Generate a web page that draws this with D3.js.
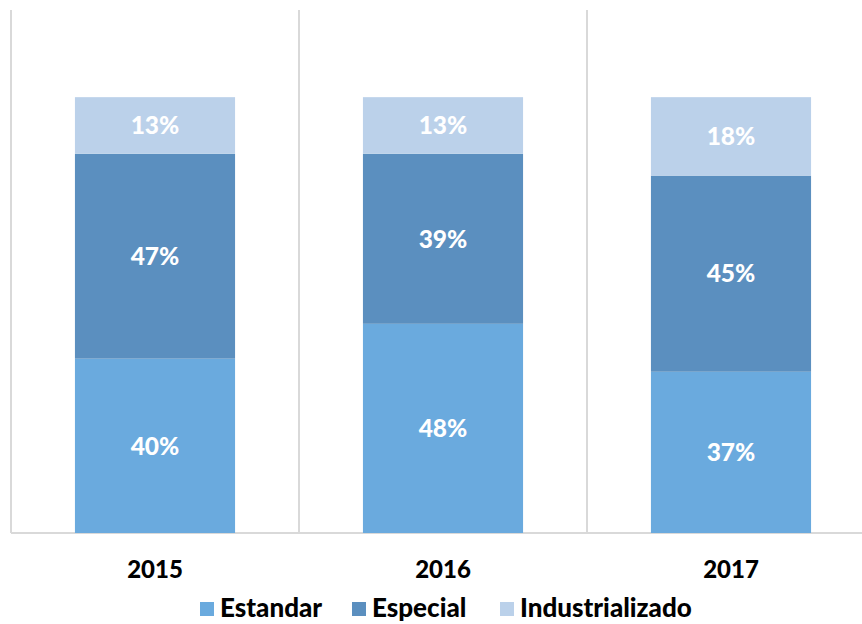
<!DOCTYPE html>
<meta charset="utf-8">
<style>
body { margin: 0; background: #fff; }
text { font-family: "Lato", "Open Sans", sans-serif; font-weight: 900; }
.grid line { stroke: #d9d9d9; stroke-width: 2px; }
</style>
<svg width="862" height="624"></svg>
<script src="https://d3js.org/d3.v7.min.js"></script>
<script>
// data
var years = ["2015", "2016", "2017"];
var series = ["Estandar", "Especial", "Industrializado"];
var estandar = [0.40, 0.48, 0.37];
var especial = [0.47, 0.39, 0.45];
var industrializado = [0.13, 0.13, 0.18];
var colors = ["#6aaade", "#5b8fbf", "#bbd1ea"];

var svg = d3.select("svg");

var rows = years.map(function(y, i) {
  return { year: y, Estandar: estandar[i], Especial: especial[i], Industrializado: industrializado[i] };
});
var stacked = d3.stack().keys(series)(rows);

var x = d3.scaleBand().domain(years).range([11, 875]).paddingInner(0.444).paddingOuter(0.222);
var xCat = d3.scaleBand().domain(years).range([11, 875]);
var y = d3.scaleLinear().domain([0, 1.2]).range([533, 10]);

// category separators
var grid = svg.append("g").attr("class", "grid");
grid.selectAll("line.v")
    .data(years)
  .enter().append("line")
    .attr("x1", function(d) { return xCat(d); })
    .attr("x2", function(d) { return xCat(d); })
    .attr("y1", 10)
    .attr("y2", 533);
grid.append("line")
    .attr("x1", 11).attr("x2", 862)
    .attr("y1", 533).attr("y2", 533);

// bars
var layers = svg.append("g").selectAll("g")
    .data(stacked)
  .enter().append("g")
    .attr("fill", function(d, i) { return colors[i]; });

layers.selectAll("rect")
    .data(function(d) { return d; })
  .enter().append("rect")
    .attr("x", function(d) { return x(d.data.year); })
    .attr("width", x.bandwidth())
    .attr("y", function(d) { return y(d[1]); })
    .attr("height", function(d) { return y(d[0]) - y(d[1]); });

// value labels
layers.selectAll("text")
    .data(function(d) { return d; })
  .enter().append("text")
    .attr("x", function(d) { return x(d.data.year) + x.bandwidth() / 2; })
    .attr("y", function(d) { return (y(d[0]) + y(d[1])) / 2; })
    .attr("dy", "0.36em")
    .attr("text-anchor", "middle")
    .attr("fill", "#fff")
    .style("font-size", "24.5px")
    .text(function(d) { return Math.round((d[1] - d[0]) * 100) + "%"; });

// x axis labels
svg.append("g").selectAll("text")
    .data(years)
  .enter().append("text")
    .attr("x", function(d) { return x(d) + x.bandwidth() / 2; })
    .attr("y", 578)
    .attr("text-anchor", "middle")
    .attr("fill", "#000")
    .style("font-size", "24px")
    .text(function(d) { return d; });

// legend
var legendX = [200, 352, 500];
var legend = svg.append("g").selectAll("g")
    .data(series)
  .enter().append("g")
    .attr("transform", function(d, i) { return "translate(" + legendX[i] + ",0)"; });
legend.append("rect")
    .attr("x", 0).attr("y", 602)
    .attr("width", 14).attr("height", 14)
    .attr("fill", function(d, i) { return colors[i]; });
legend.append("text")
    .attr("x", 20).attr("y", 617)
    .attr("fill", "#000")
    .style("font-size", "26px")
    .text(function(d) { return d; });
</script>
